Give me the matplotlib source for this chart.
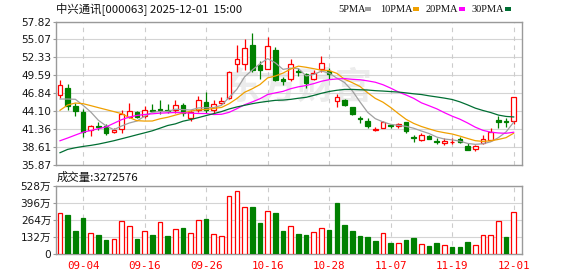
import numpy as np
import matplotlib
matplotlib.use('Agg')
import matplotlib.pyplot as plt
from matplotlib.patches import Rectangle

# daily bars, 2025-09-01 .. 2025-12-01
dates = ['09-01', '09-02', '09-03', '09-04', '09-05', '09-08', '09-09', '09-10', '09-11', '09-12',
         '09-15', '09-16', '09-17', '09-18', '09-19', '09-22', '09-23', '09-24', '09-25', '09-26',
         '09-29', '09-30', '10-09', '10-10', '10-13', '10-14', '10-15', '10-16', '10-17', '10-20',
         '10-21', '10-22', '10-23', '10-24', '10-27', '10-28', '10-29', '10-30', '10-31', '11-03',
         '11-04', '11-05', '11-06', '11-07', '11-10', '11-11', '11-12', '11-13', '11-14', '11-17',
         '11-18', '11-19', '11-20', '11-21', '11-24', '11-25', '11-26', '11-27', '11-28', '12-01']
opens = [46.57, 47.68, 44.95, 44.04, 41.30, 41.86, 41.91, 40.89, 41.40, 43.17,
         44.04, 43.43, 44.34, 44.44, 44.28, 44.24, 45.05, 43.02, 44.34, 45.45,
         44.34, 45.35, 46.06, 51.33, 51.28, 54.22, 51.13, 50.62, 53.46, 49.00,
         49.00, 50.22, 49.81, 49.00, 50.62, 50.32, 45.66, 45.76, 44.75, 43.02,
         42.62, 41.30, 41.60, 42.01, 41.81, 42.52, 40.08, 39.68, 40.29, 39.58,
         39.27, 39.35, 39.78, 38.77, 38.36, 39.17, 39.68, 42.72, 42.62, 42.62]
highs = [48.90, 48.29, 45.35, 44.44, 42.01, 42.52, 42.11, 41.50, 44.34, 45.35,
         44.10, 44.95, 45.25, 45.86, 45.25, 45.86, 45.35, 44.34, 46.37, 47.08,
         45.86, 46.27, 50.32, 54.17, 55.19, 56.10, 51.74, 55.49, 53.87, 49.31,
         52.04, 50.67, 49.91, 50.42, 52.55, 50.67, 46.77, 45.96, 44.75, 43.33,
         43.12, 41.70, 42.62, 42.21, 42.31, 42.52, 40.39, 40.69, 40.49, 39.98,
         39.98, 39.98, 40.08, 39.17, 38.97, 40.49, 41.50, 43.33, 43.02, 46.27]
lows = [46.06, 44.24, 43.43, 40.08, 40.29, 41.20, 40.39, 40.69, 40.69, 43.02,
        43.02, 43.12, 44.04, 43.63, 43.83, 43.83, 43.33, 42.62, 44.04, 43.83,
        43.73, 45.15, 45.96, 50.12, 50.42, 50.17, 49.00, 50.52, 48.65, 48.14,
        48.65, 49.41, 47.68, 48.80, 50.12, 49.10, 44.75, 44.85, 43.53, 42.31,
        41.50, 41.00, 41.50, 41.60, 41.60, 40.79, 39.37, 39.47, 39.78, 39.07,
        38.87, 39.07, 39.17, 38.16, 37.95, 39.07, 39.58, 41.60, 41.70, 42.21]
closes = [48.09, 44.95, 44.09, 40.89, 41.86, 41.70, 40.69, 41.20, 43.68, 44.19,
          43.22, 44.34, 44.20, 44.24, 44.19, 45.00, 43.90, 43.95, 45.86, 44.34,
          45.15, 45.66, 50.12, 52.04, 53.77, 50.42, 50.38, 54.07, 48.80, 48.76,
          51.33, 50.12, 48.39, 49.91, 51.43, 49.81, 46.27, 45.05, 43.63, 42.92,
          41.81, 41.40, 42.52, 41.81, 42.16, 41.00, 39.98, 40.39, 39.88, 39.45,
          39.50, 39.40, 39.37, 38.16, 38.77, 39.88, 40.89, 42.52, 42.50, 46.27]
# volume in 万 shares
volumes = [315, 302, 179, 279, 161, 149, 110, 115, 254, 215,
           118, 177, 149, 246, 141, 192, 202, 161, 261, 272,
           154, 138, 446, 484, 361, 364, 238, 331, 318, 179,
           218, 156, 149, 169, 200, 187, 395, 226, 179, 141,
           133, 103, 161, 87, 85, 110, 126, 77, 64, 87,
           69, 56, 56, 95, 69, 146, 146, 254, 133, 327.26]

# moving averages as shown on the chart
ma5 = [45.96, 45.96, 45.92, 45.00, 43.98, 42.70, 41.85, 41.27, 41.83, 42.29,
       42.60, 43.33, 43.93, 44.05, 44.05, 44.40, 44.34, 44.28, 44.60, 44.63,
       44.66, 44.99, 46.23, 47.46, 49.35, 50.40, 51.35, 52.14, 51.50, 50.50,
       50.68, 50.62, 49.49, 49.71, 50.24, 49.93, 49.16, 48.49, 47.24, 45.54,
       43.94, 42.96, 42.46, 42.09, 41.94, 41.78, 41.49, 41.07, 40.68, 40.14,
       39.84, 39.72, 39.52, 39.17, 39.03, 39.12, 39.41, 40.04, 40.92, 42.42]
ma10 = [44.24, 45.05, 45.35, 45.25, 44.95, 44.64, 44.34, 44.04, 43.73, 43.13,
        42.65, 42.59, 42.60, 42.94, 43.17, 43.50, 43.83, 44.11, 44.33, 44.34,
        44.53, 44.67, 45.25, 46.03, 46.99, 47.53, 48.17, 49.19, 49.48, 49.93,
        50.54, 50.99, 50.82, 50.60, 50.37, 50.31, 49.89, 48.99, 48.47, 47.89,
        46.93, 46.06, 45.48, 44.67, 43.74, 42.86, 42.23, 41.76, 41.39, 41.04,
        40.81, 40.61, 40.29, 39.93, 39.59, 39.48, 39.57, 39.78, 40.05, 40.73]
ma20 = [39.58, 40.00, 40.45, 40.89, 41.15, 41.42, 41.70, 42.25, 42.80, 43.20,
        43.45, 43.60, 43.70, 43.80, 43.85, 43.90, 43.85, 43.80, 43.75, 43.74,
        43.59, 43.63, 43.93, 44.48, 45.08, 45.52, 46.00, 46.65, 46.90, 47.13,
        47.54, 47.83, 48.03, 48.32, 48.68, 48.92, 49.03, 49.09, 48.98, 48.91,
        48.74, 48.53, 48.15, 47.63, 47.05, 46.58, 46.06, 45.38, 44.93, 44.46,
        43.87, 43.34, 42.88, 42.30, 41.66, 41.17, 40.90, 40.77, 40.72, 40.88]
ma30 = [37.75, 38.26, 38.51, 38.71, 38.87, 39.07, 39.32, 39.58, 39.88, 40.18,
        40.49, 40.79, 41.10, 41.50, 41.91, 42.16, 42.57, 42.82, 43.12, 43.43,
        43.73, 44.04, 44.44, 44.75, 45.00, 45.25, 45.45, 45.61, 45.76, 45.80,
        45.91, 46.08, 46.22, 46.52, 46.84, 47.11, 47.30, 47.43, 47.43, 47.38,
        47.34, 47.24, 47.18, 47.10, 47.03, 46.90, 46.76, 46.65, 46.45, 46.28,
        46.10, 45.89, 45.53, 45.07, 44.57, 44.21, 43.90, 43.51, 43.30, 43.22]

price_ticks = [35.87, 38.61, 41.36, 44.10, 46.84, 49.59, 52.33, 55.07, 57.82]
price_labels = ['35.87', '38.61', '41.36', '44.10', '46.84', '49.59', '52.33', '55.07', '57.82']
vol_ticks = [0, 132, 264, 396, 528]
vol_labels = ['0', '132万', '264万', '396万', '528万']
label_days = ['09-04', '09-16', '09-26', '10-16', '10-28', '11-07', '11-19', '12-01']

RED = '#ff0000'
GREEN = '#008000'
GRID = '#d4d4d4'
SPINE = '#9a9a9a'
W, H = 578, 276

fig = plt.figure(figsize=(W / 100, H / 100), dpi=100)
ax = fig.add_axes([56 / W, 1 - 165 / H, 466 / W, 143.5 / H])
axv = fig.add_axes([56 / W, 1 - 254.3 / H, 466 / W, 68.6 / H])

x = np.arange(len(dates))
o = np.array(opens)
c = np.array(closes)
hi = np.array(highs)
lo = np.array(lows)
up = c >= o
col = np.where(up, RED, GREEN)

# candles
ax.vlines(x, lo, hi, colors=col, lw=0.9, zorder=3)
body = np.maximum(np.abs(c - o), 0.04)
ax.bar(x, body, bottom=np.minimum(o, c), width=0.6,
       color=np.where(up, 'white', GREEN), edgecolor=col, lw=0.9, zorder=4)

# moving averages
ax.plot(x, ma5, color='#a0a0a0', lw=0.9, zorder=5)
ax.plot(x, ma10, color='#f0a000', lw=0.9, zorder=5)
ax.plot(x, ma20, color='#ff00ff', lw=0.9, zorder=5)
ax.plot(x, ma30, color='#006e33', lw=0.9, zorder=5)

# watermark
ax.text(0.52, 0.54, '东方财富', transform=ax.transAxes, ha='center', va='center',
        fontsize=27, fontweight='bold', color='#ececec', family='Noto Sans CJK SC', zorder=0)

# volume, coloured by change against previous close
prev = np.concatenate([[o[0]], c[:-1]])
vup = c > prev
vcol = np.where(vup, RED, GREEN)
axv.bar(x, volumes, width=0.6, color=np.where(vup, 'white', GREEN),
        edgecolor=vcol, lw=0.9, zorder=3)

tick_idx = [dates.index(d) for d in label_days]

for a in (ax, axv):
    a.set_xlim(-0.52, 60.08)
    for s in a.spines.values():
        s.set_color(SPINE)
        s.set_linewidth(1)
    for i in tick_idx:
        a.axvline(i, color='#cccccc', lw=0.8, ls=(0, (4, 4)), zorder=1)
    a.grid(axis='y', color=GRID, lw=0.8, zorder=1)
    a.set_axisbelow(True)
    a.tick_params(axis='y', length=2.5, width=0.8, color=SPINE, pad=1,
                  labelsize=7.6, labelcolor='#151515')

ax.set_ylim(35.87, 57.82)
ax.set_yticks(price_ticks)
ax.set_yticklabels(price_labels, family='DejaVu Sans')
ax.set_xticks([])

axv.set_ylim(0, 528)
axv.set_yticks(vol_ticks)
axv.set_yticklabels(vol_labels, family=['DejaVu Sans', 'Noto Sans CJK SC'])
axv.set_xticks(tick_idx)
axv.set_xticklabels(label_days, family='DejaVu Sans Mono', fontsize=7.8, color=RED)
axv.tick_params(axis='x', length=0, pad=5)

# header texts
fig.text(56 / W, 1 - 8.5 / H, '中兴通讯[000063] 2025-12-01  15:00', ha='left', va='center',
         fontsize=8.2, family=['Noto Sans CJK SC', 'DejaVu Sans'], color='#111111')
fig.text(57 / W, 1 - 177.5 / H, '成交量:3272576', ha='left', va='center',
         fontsize=8.2, family=['Noto Sans CJK SC', 'DejaVu Sans'], color='#111111')

legend = [('5PMA', 338.3, 365.3, '#a0a0a0'), ('10PMA', 380, 413.3, '#f0a000'),
          ('20PMA', 425.3, 459.3, '#ff00ff'), ('30PMA', 471.7, 505, '#006e33')]
for name, tx, sx, cc in legend:
    fig.text(tx / W, 1 - 9 / H, name, ha='left', va='center', fontsize=7.5,
             family='Liberation Serif', color='#111111')
    fig.add_artist(Rectangle((sx / W, 1 - 11 / H), 6 / W, 4 / H,
                             transform=fig.transFigure, color=cc, lw=0))

fig.savefig('out.png', dpi=100, facecolor='white')
